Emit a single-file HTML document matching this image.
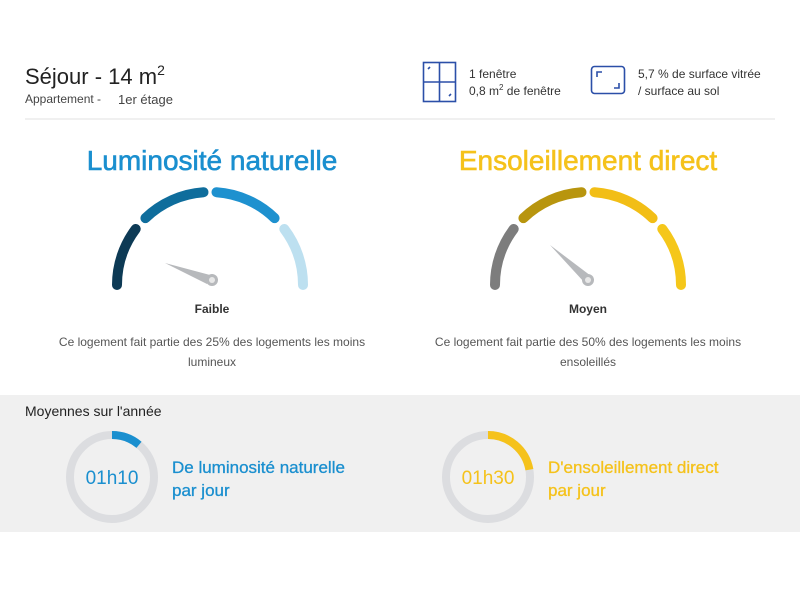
<!DOCTYPE html>
<html><head><meta charset="utf-8"><style>
body{margin:0;width:800px;height:600px;background:#fff;overflow:hidden;font-family:"Liberation Sans","DejaVu Sans",sans-serif}
svg{display:block}
</style></head><body>
<svg width="800" height="600" viewBox="0 0 800 600" xmlns="http://www.w3.org/2000/svg" font-family="Liberation Sans, DejaVu Sans, sans-serif">
<rect x="0" y="395" width="800" height="137" fill="#f0f0f0"/>
<text x="25" y="84" font-size="22" fill="#222">Séjour - 14 m<tspan font-size="14" dy="-9">2</tspan></text>
<text x="25" y="103" font-size="12" fill="#444">Appartement -</text>
<text x="118" y="104" font-size="13" fill="#444">1er étage</text>
<line x1="25" y1="119" x2="775" y2="119" stroke="#e2e2e2" stroke-width="1"/>
<g stroke="#2b4fa8" stroke-width="1.6" fill="none">
<rect x="423.5" y="62.5" width="32" height="39"/>
<line x1="439.5" y1="62.5" x2="439.5" y2="101.5"/>
<line x1="423.5" y1="82" x2="455.5" y2="82"/>
<line x1="428" y1="69" x2="430" y2="67"/><line x1="449" y1="96" x2="451" y2="94"/>
<rect x="591.5" y="66.5" width="33" height="27" rx="3"/>
<path d="M597 77 V72 H602 M619 83 V88 H614"/>
</g>
<text x="469" y="78" font-size="12" fill="#333">1 fenêtre</text>
<text x="469" y="95" font-size="12" fill="#333">0,8 m<tspan font-size="8" dy="-5">2</tspan><tspan dy="5"> de fenêtre</tspan></text>
<text x="638" y="78" font-size="12" fill="#333">5,7 % de surface vitrée</text>
<text x="638" y="95" font-size="12" fill="#333">/ surface au sol</text>
<text x="212" y="170" font-size="28" fill="#1a8fcf" stroke="#1a8fcf" stroke-width="0.6" text-anchor="middle">Luminosité naturelle</text>
<text x="588" y="170" font-size="28" fill="#f5c21b" stroke="#f5c21b" stroke-width="0.6" text-anchor="middle">Ensoleillement direct</text>
<g fill="none" stroke-width="10" stroke-linecap="round">
<path d="M117 285 A93 93 0 0 1 135.7 229" stroke="#0d3a55"/>
<path d="M145.4 218.1 A93 93 0 0 1 203.5 192.2" stroke="#0f6d9c"/>
<path d="M216.5 192.2 A93 93 0 0 1 274.6 218.1" stroke="#1e91cf"/>
<path d="M284.3 229 A93 93 0 0 1 303 285" stroke="#bde0f0"/>
<g transform="translate(378 0)">
<path d="M117 285 A93 93 0 0 1 135.7 229" stroke="#7d7d7d"/>
<path d="M145.4 218.1 A93 93 0 0 1 203.5 192.2" stroke="#b8950e"/>
<path d="M216.5 192.2 A93 93 0 0 1 274.6 218.1" stroke="#f2be16"/>
<path d="M284.3 229 A93 93 0 0 1 303 285" stroke="#f5c71a"/>
</g>
</g>
<polygon points="165,263 210,275 207,284" fill="#b7b9bc"/>
<circle cx="212" cy="280" r="6" fill="#b7b9bc"/><circle cx="212" cy="280" r="3" fill="#e8e8e8"/>
<polygon points="550,245 591,276 584,282" fill="#b7b9bc"/>
<circle cx="588" cy="280" r="6" fill="#b7b9bc"/><circle cx="588" cy="280" r="3" fill="#e8e8e8"/>
<text x="212" y="313" font-size="12" font-weight="bold" fill="#333" text-anchor="middle">Faible</text>
<text x="588" y="313" font-size="12" font-weight="bold" fill="#333" text-anchor="middle">Moyen</text>
<text x="212" y="346" font-size="12" fill="#555" text-anchor="middle">Ce logement fait partie des 25% des logements les moins</text>
<text x="212" y="366" font-size="12" fill="#555" text-anchor="middle">lumineux</text>
<text x="588" y="346" font-size="12" fill="#555" text-anchor="middle">Ce logement fait partie des 50% des logements les moins</text>
<text x="588" y="366" font-size="12" fill="#555" text-anchor="middle">ensoleillés</text>
<text x="25" y="416" font-size="14" fill="#222">Moyennes sur l'année</text>
<g fill="none" stroke-width="8">
<circle cx="112" cy="477" r="42" stroke="#dcdde0"/>
<path d="M112 435 A42 42 0 0 1 139 444.8" stroke="#1a8fcf"/>
<circle cx="488" cy="477" r="42" stroke="#dcdde0"/>
<path d="M488 435 A42 42 0 0 1 529.4 469.7" stroke="#f5c21b"/>
</g>
<text x="112" y="484" font-size="19" fill="#1a8fcf" text-anchor="middle">01h10</text>
<text x="488" y="484" font-size="19" fill="#f5c21b" text-anchor="middle">01h30</text>
<text x="172" y="473" font-size="17" fill="#1a8fcf" stroke="#1a8fcf" stroke-width="0.3">De luminosité naturelle</text>
<text x="172" y="496" font-size="17" fill="#1a8fcf" stroke="#1a8fcf" stroke-width="0.3">par jour</text>
<text x="548" y="473" font-size="17" fill="#f5c21b" stroke="#f5c21b" stroke-width="0.3">D'ensoleillement direct</text>
<text x="548" y="496" font-size="17" fill="#f5c21b" stroke="#f5c21b" stroke-width="0.3">par jour</text>
</svg>
</body></html>
